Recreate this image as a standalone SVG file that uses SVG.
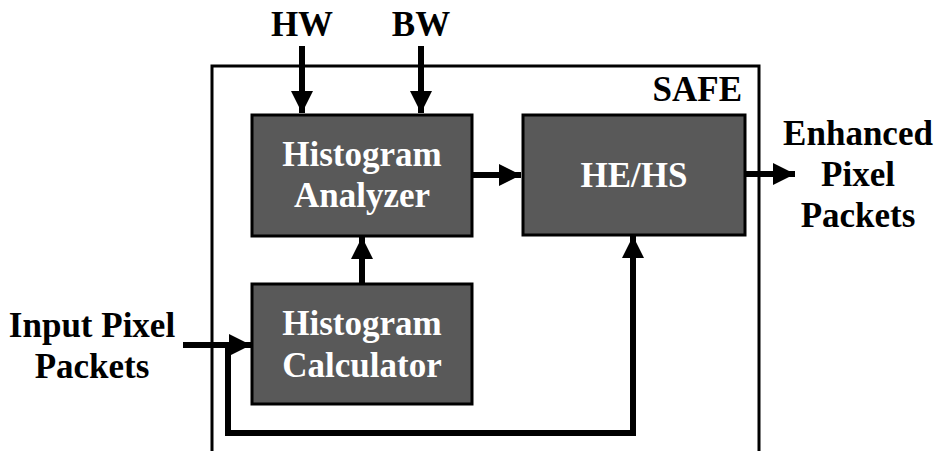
<svg xmlns="http://www.w3.org/2000/svg" width="937" height="451" viewBox="0 0 937 451">
<defs>
<style>
.t{font-family:"Liberation Serif","Times New Roman",serif;font-weight:bold;font-size:35px;text-anchor:middle}
.w{fill:#fff}
.k{fill:#000}
.box{fill:#595959;stroke:#000;stroke-width:3}
.c{fill:none;stroke:#000;stroke-width:6}
</style>
<marker id="ah" markerUnits="userSpaceOnUse" markerWidth="24" markerHeight="24" viewBox="0 0 24 24" refX="22" refY="12" orient="auto">
<path d="M0,1 L22,12 L0,23 Z" fill="#000"/>
</marker>
</defs>
<rect width="937" height="451" fill="#fff"/>
<g id="safe">
<path d="M212,451 V66 H759 V451" fill="none" stroke="#000" stroke-width="3"/>
<text class="t k" x="742" y="101" style="text-anchor:end">SAFE</text>
</g>
<g id="connectors">
<line class="c" x1="302" y1="46" x2="302" y2="113" marker-end="url(#ah)"/>
<line class="c" x1="421" y1="46" x2="421" y2="113" marker-end="url(#ah)"/>
<line class="c" x1="472" y1="175" x2="521" y2="175" marker-end="url(#ah)"/>
<line class="c" x1="362" y1="284" x2="362" y2="237" marker-end="url(#ah)"/>
<line class="c" x1="745" y1="174" x2="795" y2="174" marker-end="url(#ah)"/>
<line class="c" x1="183" y1="345" x2="251" y2="345" marker-end="url(#ah)"/>
<polyline class="c" points="228,346 228,433 633,433 633,236" marker-end="url(#ah)"/>
</g>
<g id="hw"><text class="t k" x="302" y="36">HW</text></g>
<g id="bw"><text class="t k" x="421" y="36">BW</text></g>
<g id="analyzer">
<rect class="box" x="252" y="115" width="220" height="121"/>
<text class="t w" x="362" y="166">Histogram</text>
<text class="t w" x="362" y="207">Analyzer</text>
</g>
<g id="calculator">
<rect class="box" x="252" y="284" width="220" height="120"/>
<text class="t w" x="362" y="335">Histogram</text>
<text class="t w" x="362" y="377">Calculator</text>
</g>
<g id="hehs">
<rect class="box" x="523" y="115" width="222" height="120"/>
<text class="t w" x="634" y="187">HE/HS</text>
</g>
<g id="output">
<text class="t k" x="858" y="145">Enhanced</text>
<text class="t k" x="858" y="186">Pixel</text>
<text class="t k" x="858" y="227">Packets</text>
</g>
<g id="input">
<text class="t k" x="92" y="337">Input Pixel</text>
<text class="t k" x="92" y="378">Packets</text>
</g>
</svg>
